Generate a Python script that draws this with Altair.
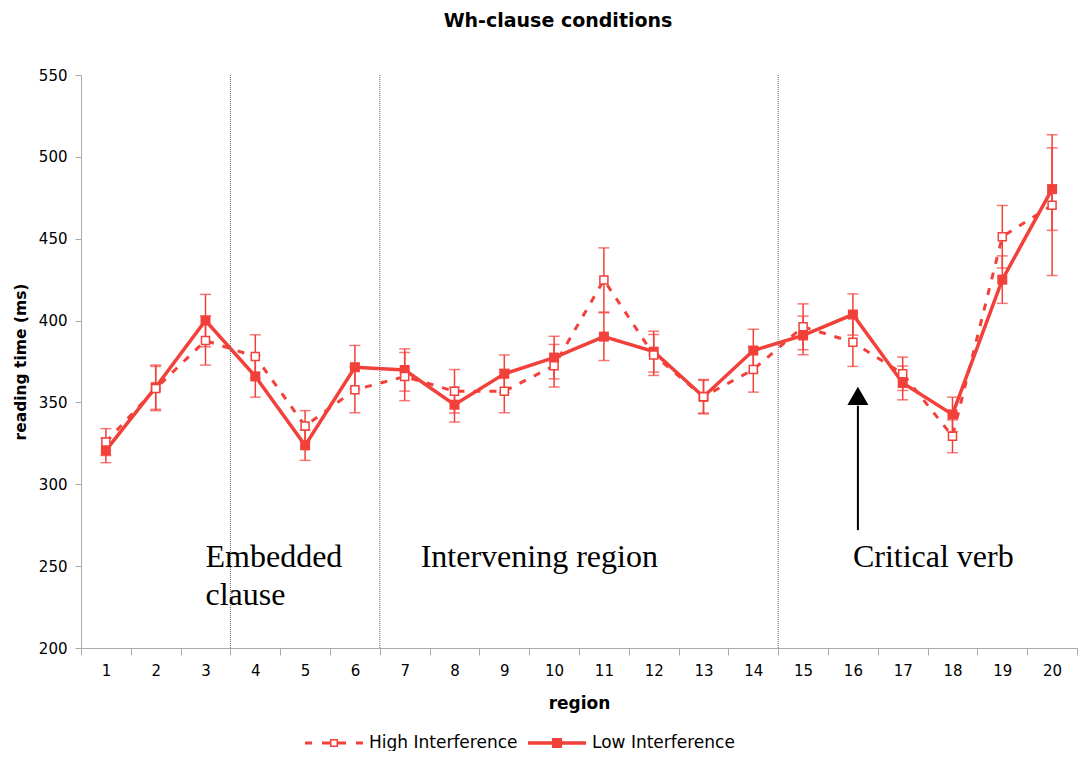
import altair as alt
import pandas as pd

RED = "#f2403a"

regions = list(range(1, 21))
high_mean = [325.8, 358.5, 387.8, 378.0, 335.6, 357.7, 365.8, 356.8, 356.9, 372.4,
             424.8, 379.0, 353.5, 370.1, 396.2, 386.8, 367.5, 329.3, 451.2, 470.5]
high_err = [8.2, 13.5, 15.0, 13.3, 9.4, 14.0, 14.7, 13.3, 13.2, 13.0,
            19.6, 12.5, 10.0, 13.8, 14.0, 14.8, 10.2, 10.0, 19.1, 43.0]
low_mean = [320.7, 359.3, 400.0, 365.9, 323.8, 371.5, 369.8, 348.6, 367.5, 377.4,
            390.2, 381.0, 353.5, 381.7, 390.9, 403.7, 361.9, 342.7, 425.0, 480.3]
low_err = [7.5, 13.5, 16.0, 12.7, 9.2, 13.3, 12.9, 10.6, 11.5, 13.0,
           14.6, 12.5, 10.5, 13.0, 11.8, 12.6, 10.3, 10.5, 14.5, 25.2]

series_names = ["High Interference", "Low Interference"]
divider_regions = [4, 7, 15]

ann_embedded = ["Embedded", "clause"]
ann_embedded_y = [249.5, 226.3]
ann_embedded_region = [3, 3]
ann_intervening = ["Intervening region"]
ann_intervening_y = [249.5]
ann_intervening_region = [7]
ann_critical = ["Critical verb"]
ann_critical_y = [249.5]
ann_critical_region = [16]

arrow_region = [16]
arrow_from = [272.0]
arrow_to = [348.0]
arrow_head = [354.0]

# legend symbol paths (unit = 9px; symbol spans about 58px)
path_high = ("M-3.22,-0.17H-2.44V0.17H-3.22Z M-1.33,-0.17H-0.45V0.17H-1.33Z "
             "M0.45,-0.17H1.33V0.17H0.45Z M2.44,-0.17H3.22V0.17H2.44Z "
             "M-0.45,-0.45H0.45V0.45H-0.45Z M-0.28,-0.28V0.28H0.28V-0.28Z")
path_low = "M-3.22,-0.19H3.22V0.19H-3.22Z M-0.56,-0.56H0.56V0.56H-0.56Z"

rows = []
for r, m, e in zip(regions, high_mean, high_err):
    rows.append({"region": r, "series": series_names[0], "mean": m, "lo": m - e, "hi": m + e})
for r, m, e in zip(regions, low_mean, low_err):
    rows.append({"region": r, "series": series_names[1], "mean": m, "lo": m - e, "hi": m + e})
df = pd.DataFrame(rows)
df_high = df[df.series == series_names[0]]
df_low = df[df.series == series_names[1]]

xscale = alt.Scale(domain=regions, paddingInner=0, paddingOuter=0)
yscale = alt.Scale(domain=[200, 550], nice=False, zero=False)

X = alt.X("region:O", scale=xscale, title="region",
          axis=alt.Axis(labelAngle=0, tickBand="extent", tickSize=7, labelPadding=8,
                        titlePadding=17, titleFontSize=17, titleFontWeight="bold"))
Y_axis = alt.Axis(values=[200, 250, 300, 350, 400, 450, 500, 550], tickSize=6,
                  labelPadding=8, titlePadding=10, titleFontSize=15.5,
                  titleFontWeight="bold")

dividers = alt.Chart(pd.DataFrame({"region": divider_regions})).mark_rule(
    color="#666", strokeDash=[1, 1], strokeWidth=1
).encode(x=alt.X("region:O", scale=xscale, bandPosition=0))


def errbars(d):
    base = alt.Chart(d)
    rule = base.mark_rule(color=RED, strokeWidth=1.5).encode(
        x=alt.X("region:O", scale=xscale),
        y=alt.Y("lo:Q", scale=yscale),
        y2="hi:Q")
    ticks = base.transform_fold(["lo", "hi"], as_=["k", "v"]).mark_tick(
        color=RED, size=11, thickness=1.5, orient="horizontal").encode(
        x=alt.X("region:O", scale=xscale),
        y=alt.Y("v:Q", scale=yscale))
    return rule + ticks


line_low = alt.Chart(df_low).mark_line(color=RED, strokeWidth=3.5).encode(
    x=X, y=alt.Y("mean:Q", scale=yscale, axis=Y_axis, title="reading time (ms)"))
line_high = alt.Chart(df_high).mark_line(color=RED, strokeWidth=3, strokeDash=[7, 9]).encode(
    x=alt.X("region:O", scale=xscale), y=alt.Y("mean:Q", scale=yscale))
pts_low = alt.Chart(df_low).mark_point(shape="square", filled=True, color=RED, size=100,
                                        opacity=1).encode(
    x=alt.X("region:O", scale=xscale), y=alt.Y("mean:Q", scale=yscale))
pts_high = alt.Chart(df_high).mark_point(shape="square", filled=True, fill="white", stroke=RED,
                                          strokeWidth=1.5, size=64, opacity=1).encode(
    x=alt.X("region:O", scale=xscale), y=alt.Y("mean:Q", scale=yscale))

legend_layer = alt.Chart(df).transform_filter("false").mark_point(
    filled=True, color=RED, size=324, opacity=1).encode(
    x=alt.X("region:O", scale=xscale), y=alt.Y("mean:Q", scale=yscale),
    shape=alt.Shape("series:N",
                    scale=alt.Scale(domain=series_names, range=[path_high, path_low]),
                    legend=alt.Legend(title=None, orient="none", legendX=224, legendY=659,
                                      direction="horizontal", symbolSize=324,
                                      symbolOffset=20, symbolStrokeWidth=0,
                                      symbolFillColor=RED,
                                      labelFont="DejaVu Sans", labelFontSize=17,
                                      labelColor="black", labelOffset=26,
                                      columnPadding=10, padding=0, labelLimit=400)))


def annot(texts, ys, regs, dx):
    d = pd.DataFrame({"t": texts, "y": ys, "region": regs})
    return alt.Chart(d).mark_text(font="Liberation Serif", fontSize=32, color="black",
                                  align="left", baseline="alphabetic", dx=dx).encode(
        x=alt.X("region:O", scale=xscale), y=alt.Y("y:Q", scale=yscale), text="t:N")


arrow_df = pd.DataFrame({"region": arrow_region, "y0": arrow_from, "y1": arrow_to,
                         "yh": arrow_head})
arrow_line = alt.Chart(arrow_df).mark_rule(color="black", strokeWidth=2, xOffset=5).encode(
    x=alt.X("region:O", scale=xscale), y=alt.Y("y0:Q", scale=yscale), y2="y1:Q")
arrow_tip = alt.Chart(arrow_df).mark_point(shape="triangle-up", filled=True, color="black",
                                           size=441, opacity=1, xOffset=5).encode(
    x=alt.X("region:O", scale=xscale), y=alt.Y("yh:Q", scale=yscale))

chart = alt.layer(
    line_low, dividers,
    errbars(df_low), pts_low,
    line_high, errbars(df_high), pts_high,
    annot(ann_embedded, ann_embedded_y, ann_embedded_region, 0),
    annot(ann_intervening, ann_intervening_y, ann_intervening_region, 16),
    annot(ann_critical, ann_critical_y, ann_critical_region, 0),
    arrow_line, arrow_tip, legend_layer
).properties(
    width=996, height=573,
    title=alt.Title("Wh-clause conditions", font="DejaVu Sans", fontSize=19,
                    fontWeight="bold", offset=37, dx=-21),
    padding={"left": 5, "top": 4, "right": 0, "bottom": 0}
).configure_view(stroke=None).configure_axis(
    labelFont="DejaVu Sans", labelFontSize=15, labelColor="black",
    titleFont="DejaVu Sans", titleColor="black",
    domainColor="#aaa", tickColor="#aaa", grid=False
)

chart.save("out.html", embed_options={"renderer": "svg", "actions": False})
